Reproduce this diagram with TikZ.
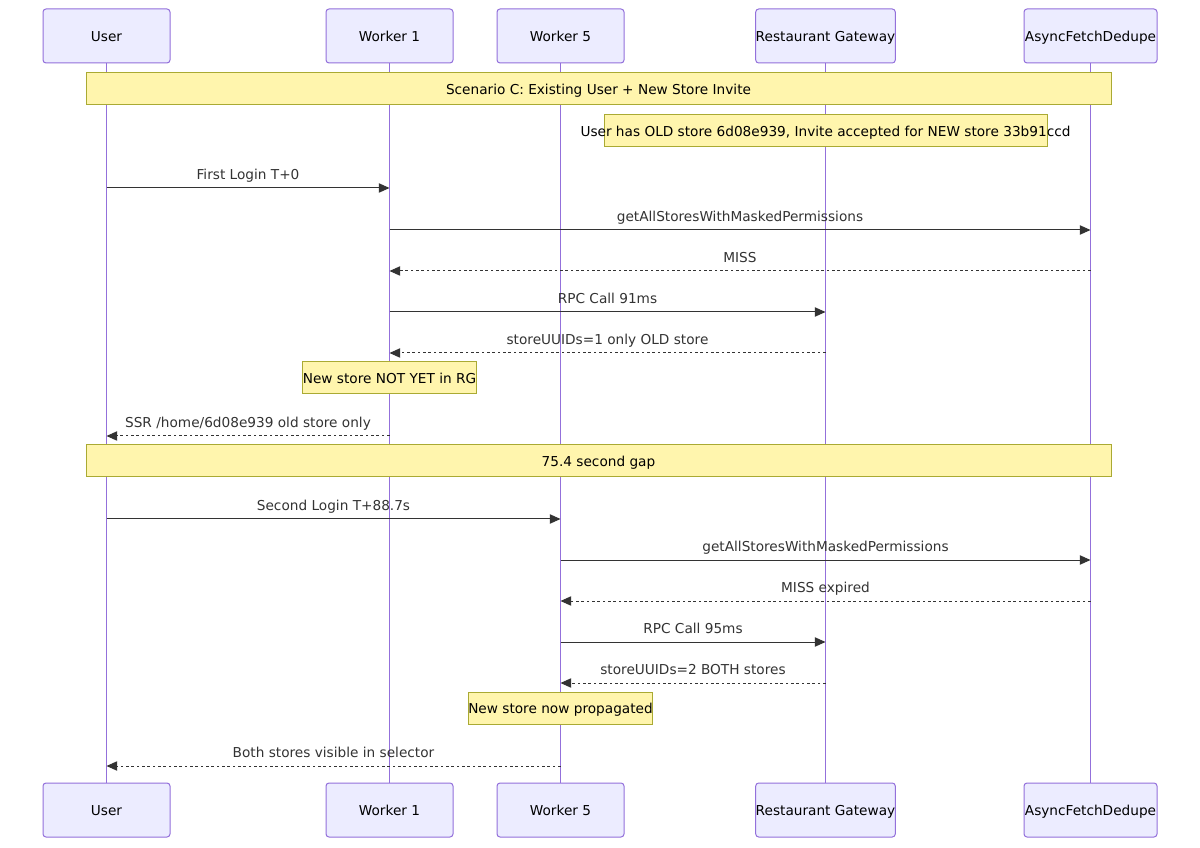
\documentclass[tikz,border=0pt]{standalone}
\usepackage{fontspec}
\setmainfont{DejaVu Sans}
\usetikzlibrary{arrows.meta}
\definecolor{actfill}{HTML}{ECECFF}
\definecolor{actline}{HTML}{9370DB}
\definecolor{notefill}{HTML}{FFF5AD}
\definecolor{noteline}{HTML}{AAAA33}
\definecolor{sig}{HTML}{333333}
\begin{document}
\begin{tikzpicture}[x=0.75pt,y=-0.75pt,
  fnt/.style={font=\fontsize{10.25pt}{12pt}\selectfont},
  actor/.style={fnt,draw=actline,fill=actfill,line width=0.75pt,rounded corners=2.25pt,
    minimum height=54*0.75pt,inner sep=0pt,text=black,text height=8.5pt,text depth=0pt},
  lifeline/.style={draw=actline,line width=1.2pt},
  notebox/.style={fnt,draw=noteline,fill=notefill,line width=0.75pt,inner sep=0pt,
    minimum height=32*0.75pt,text=black,text height=8.5pt,text depth=0pt},
  notetext/.style={fnt,text=black,inner sep=0pt,text height=8.5pt,text depth=0pt},
  msg/.style={draw=sig,line width=0.75pt,-{Triangle[length=8pt,width=7pt]}},
  reply/.style={msg,dash pattern=on 2pt off 2pt},
  lbl/.style={fnt,text=sig,inner sep=0pt,text height=8.5pt,text depth=0pt,yshift=10.5pt}
]
\useasboundingbox (0,0) rectangle (1200,848);
\fill[white] (0,0) rectangle (1200,848);
% participants top
\node[actor,minimum width=127*0.75pt] (uT) at (106.5,36) {User};
\node[actor,minimum width=127*0.75pt] (w1T) at (389.5,36) {Worker 1};
\node[actor,minimum width=127*0.75pt] (w5T) at (560.5,36) {Worker 5};
\node[actor,minimum width=139*0.75pt] (rgT) at (825.5,36) {Restaurant Gateway};
\node[actor,minimum width=133*0.75pt] (afT) at (1090.5,36) {AsyncFetchDedupe};
% participants bottom
\node[actor,minimum width=127*0.75pt] (uB) at (106.5,810) {User};
\node[actor,minimum width=127*0.75pt] (w1B) at (389.5,810) {Worker 1};
\node[actor,minimum width=127*0.75pt] (w5B) at (560.5,810) {Worker 5};
\node[actor,minimum width=139*0.75pt] (rgB) at (825.5,810) {Restaurant Gateway};
\node[actor,minimum width=133*0.75pt] (afB) at (1090.5,810) {AsyncFetchDedupe};
% lifelines
\draw[lifeline] (uT.south) -- (uB.north);
\draw[lifeline] (w1T.south) -- (w1B.north);
\draw[lifeline] (w5T.south) -- (w5B.north);
\draw[lifeline] (rgT.south) -- (rgB.north);
\draw[lifeline] (afT.south) -- (afB.north);
% notes
\node[notebox,minimum width=1025*0.75pt] (n1) at (598.5,89) {Scenario C: Existing User + New Store Invite};
\node[notebox,minimum width=443*0.75pt] (n2) at (825.5,131) {};
\node[notetext] (n2t) at (n2.center) {User has OLD store 6d08e939, Invite accepted for NEW store 33b91ccd};
\node[notebox,minimum width=169*0.75pt] (n3) at (389.5,378) {New store NOT YET in RG};
\node[notebox,minimum width=1025*0.75pt] (n4) at (598.5,461) {75.4 second gap};
\node[notebox,minimum width=183*0.75pt] (n5) at (560.5,708) {New store now propagated};
% rows
\coordinate (r1) at (0,188);
\coordinate (r2) at (0,230);
\coordinate (r3) at (0,271);
\coordinate (r4) at (0,312);
\coordinate (r5) at (0,353);
\coordinate (r6) at (0,436);
\coordinate (r7) at (0,519);
\coordinate (r8) at (0,560);
\coordinate (r9) at (0,601);
\coordinate (r10) at (0,642);
\coordinate (r11) at (0,683);
\coordinate (r12) at (0,766);
% messages
\draw[msg] (uT |- r1) -- (w1T |- r1) node[lbl,midway] (m1) {First Login T+0};
\draw[msg] (w1T |- r2) -- (afT |- r2) node[lbl,midway] (m2) {getAllStoresWithMaskedPermissions};
\draw[reply] (afT |- r3) -- (w1T |- r3) node[lbl,midway] (m3) {MISS};
\draw[msg] (w1T |- r4) -- (rgT |- r4) node[lbl,midway] (m4) {RPC Call 91ms};
\draw[reply] (rgT |- r5) -- (w1T |- r5) node[lbl,midway] (m5) {storeUUIDs=1 only OLD store};
\draw[reply] (w1T |- r6) -- (uT |- r6) node[lbl,midway] (m6) {SSR /home/6d08e939 old store only};
\draw[msg] (uT |- r7) -- (w5T |- r7) node[lbl,midway] (m7) {Second Login T+88.7s};
\draw[msg] (w5T |- r8) -- (afT |- r8) node[lbl,midway] (m8) {getAllStoresWithMaskedPermissions};
\draw[reply] (afT |- r9) -- (w5T |- r9) node[lbl,midway] (m9) {MISS expired};
\draw[msg] (w5T |- r10) -- (rgT |- r10) node[lbl,midway] (m10) {RPC Call 95ms};
\draw[reply] (rgT |- r11) -- (w5T |- r11) node[lbl,midway] (m11) {storeUUIDs=2 BOTH stores};
\draw[reply] (w5T |- r12) -- (uT |- r12) node[lbl,midway] (m12) {Both stores visible in selector};
\end{tikzpicture}
\end{document}
